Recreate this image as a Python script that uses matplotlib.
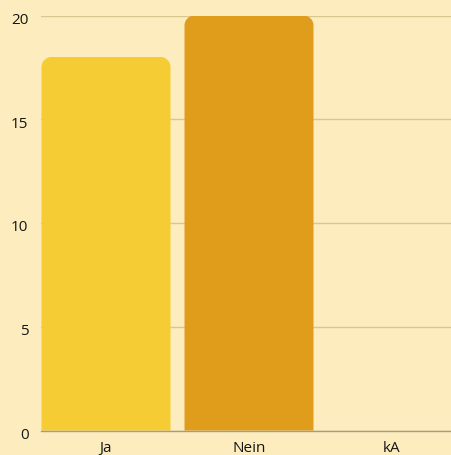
import matplotlib.pyplot as plt
import matplotlib.transforms as mtransforms
from matplotlib.path import Path
from matplotlib.patches import PathPatch

# data
categories = ['Ja', 'Nein', 'kA']
values = [18, 20, 0]
colors = ['#F5CC33', '#E09C1B', '#F5CC33']

bg = '#FDEDBE'
W, H = 451, 456

plt.rcParams['font.family'] = ['Open Sans', 'DejaVu Sans']

fig = plt.figure(figsize=(W / 100, H / 100), dpi=100, facecolor=bg)
ax = fig.add_axes([41 / W, 24.5 / H, 1 - 41 / W, 415 / H], facecolor=bg)

# category spacing 143px, bar width 129px, plot starts 41px, center of first at 106px
step = 143.0
bw = 129 / step
x0 = -(106 - 41) / step
x1 = (451 - 106) / step
ax.set_xlim(x0, x1)
ax.set_ylim(0, 20)

px_x = step            # px per x unit
px_y = 415 / 20        # px per y unit
r = 10                 # corner radius in px
k = 0.5523


def rounded_bar(xc, h, w, color):
    if h <= 0:
        return
    rx = r / px_x
    ry = min(r / px_y, h)
    l, rgt = xc - w / 2, xc + w / 2
    verts = [
        (l, 0), (l, h - ry),
        (l, h - ry + k * ry), (l + rx - k * rx, h), (l + rx, h),
        (rgt - rx, h),
        (rgt - rx + k * rx, h), (rgt, h - ry + k * ry), (rgt, h - ry),
        (rgt, 0), (l, 0),
    ]
    codes = [Path.MOVETO, Path.LINETO,
             Path.CURVE4, Path.CURVE4, Path.CURVE4,
             Path.LINETO,
             Path.CURVE4, Path.CURVE4, Path.CURVE4,
             Path.LINETO, Path.CLOSEPOLY]
    ax.add_patch(PathPatch(Path(verts, codes), facecolor=color,
                           edgecolor='none', zorder=3))


for i, (v, c) in enumerate(zip(values, colors)):
    rounded_bar(i, v, bw, c)

ax.set_yticks([0, 5, 10, 15, 20])
ax.set_xticks(range(len(categories)))
ax.set_xticklabels(categories)
ax.grid(axis='y', color='#D9C690', linewidth=1, zorder=1)
ax.tick_params(axis='both', length=0, labelsize=11, colors='#151515')
ax.tick_params(axis='y', pad=9)
ax.tick_params(axis='x', pad=6.5)

# nudge y labels a little below their gridlines
shift = mtransforms.ScaledTranslation(0, -2 / 100, fig.dpi_scale_trans)
for lab in ax.get_yticklabels():
    lab.set_transform(lab.get_transform() + shift)

for s in ['top', 'right', 'left']:
    ax.spines[s].set_visible(False)
ax.spines['bottom'].set_color('#A39C86')
ax.spines['bottom'].set_linewidth(1)
ax.spines['bottom'].set_zorder(4)

fig.savefig('out.png', dpi=100, facecolor=bg)
